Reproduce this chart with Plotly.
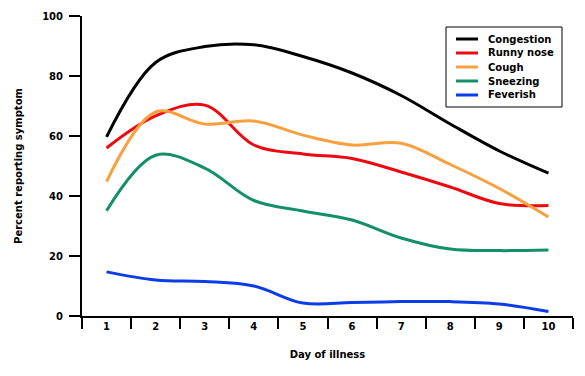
import plotly.graph_objects as go

days = [1, 2, 3, 4, 5, 6, 7, 8, 9, 10]
congestion = [59.7, 84.5, 89.8, 90.4, 86.5, 81, 73.5, 64, 55, 47.6]
runny_nose = [56, 66.7, 70.3, 57, 54, 52.5, 48, 43, 37.5, 36.8]
cough = [44.8, 68, 64, 65, 60.3, 57, 57.6, 50.5, 42.5, 33]
sneezing = [35.1, 53.6, 49.3, 38.5, 35, 32, 26, 22.3, 21.8, 22]
feverish = [14.7, 12, 11.5, 10, 4.3, 4.5, 4.8, 4.8, 4, 1.5]

names = ["Congestion", "Runny nose", "Cough", "Sneezing", "Feverish"]
values = [congestion, runny_nose, cough, sneezing, feverish]
colors = ["#000000", "#ec0a10", "#f8a040", "#13906a", "#0a3ce8"]

FONT = "DejaVu Sans"
# page has an 8px body margin; figure is sized/offset to compensate
OFF = 8
W, H = 569, 360
ML, MR, MT, MB = 74, 4, 8, 52
PLOT_L = ML + OFF          # 82 in page px
PLOT_B = OFF + H - MB      # 316 in page px
PW, PH = W - ML - MR, H - MT - MB


def px_x(p):
    return (p - PLOT_L) / PW


def px_y(p):
    return (PLOT_B - p) / PH


fig = go.Figure()
for name, vals, color in zip(names, values, colors):
    fig.add_trace(go.Scatter(
        x=days, y=vals, name=name, mode="lines",
        line=dict(color=color, width=3, shape="spline", smoothing=1.0),
        showlegend=False,
    ))

# Custom legend (compact row spacing like the original)
shapes = [dict(type="rect", xref="paper", yref="paper",
               x0=px_x(446), x1=px_x(562), y0=px_y(107), y1=px_y(27),
               line=dict(color="black", width=1), fillcolor="white", layer="above")]
annotations = []
for i, (name, color) in enumerate(zip(names, colors)):
    yy = 39 + 14 * i
    shapes.append(dict(type="line", xref="paper", yref="paper",
                       x0=px_x(456), x1=px_x(478), y0=px_y(yy), y1=px_y(yy),
                       line=dict(color=color, width=3), layer="above"))
    annotations.append(dict(xref="paper", yref="paper", x=px_x(486), y=px_y(yy),
                            xanchor="left", yanchor="middle", text=name,
                            showarrow=False,
                            font=dict(family=FONT, size=10, color="black", weight="bold")))

fig.update_layout(
    width=W, height=H,
    margin=dict(l=ML, r=MR, t=MT, b=MB),
    paper_bgcolor="white", plot_bgcolor="white",
    font=dict(family=FONT, size=10, color="black", weight="bold"),
    showlegend=False,
    shapes=shapes,
    annotations=annotations,
    xaxis=dict(
        range=[0.5, 10.5], showgrid=False, zeroline=False, automargin=False,
        showline=True, linecolor="black", linewidth=2,
        tickmode="array", tickvals=days, ticktext=[str(d) for d in days],
        ticks="", tickfont=dict(family=FONT, size=10, weight="bold"),
        minor=dict(tick0=0.5, dtick=1, ticks="outside", ticklen=11,
                   tickwidth=2, tickcolor="black", showgrid=False),
        title=dict(text="Day of illness", standoff=20,
                   font=dict(family=FONT, size=10, weight="bold")),
    ),
    yaxis=dict(
        range=[0, 100], showgrid=False, zeroline=False, automargin=False,
        showline=True, linecolor="black", linewidth=2,
        tickmode="array", tickvals=[0, 20, 40, 60, 80, 100],
        ticks="outside", ticklen=11, tickwidth=2, tickcolor="black",
        ticklabelstandoff=4,
        tickfont=dict(family=FONT, size=10, weight="bold"),
        title=dict(text="Percent reporting symptom", standoff=18,
                   font=dict(family=FONT, size=10, weight="bold")),
    ),
)

fig.write_html("out.html")
